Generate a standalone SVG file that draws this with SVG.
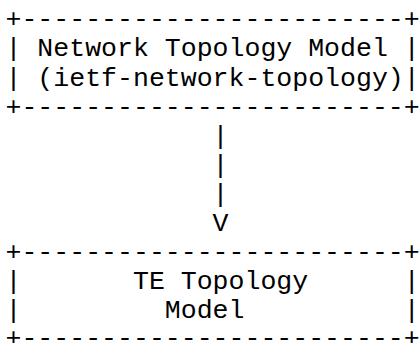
<svg xmlns="http://www.w3.org/2000/svg" width="420" height="343" viewBox="0 0 420 343">
<style>
text{font-family:"Courier New","Liberation Mono",monospace;font-size:26.55px;fill:#000;white-space:pre}
</style>
<rect width="420" height="343" fill="#fff"/>
<g id="node-network-topology">
<text x="5.5" y="27.3" xml:space="preserve">+------------------------+</text>
<text x="5.5" y="56.4" xml:space="preserve">| Network Topology Model |</text>
<text x="5.5" y="85.5" xml:space="preserve">| (ietf-network-topology)|</text>
<text x="5.5" y="114.6" xml:space="preserve">+------------------------+</text>
</g>
<g id="connectors">
<text x="5.5" y="143.7" xml:space="preserve">             |</text>
<text x="5.5" y="172.8" xml:space="preserve">             |</text>
<text x="5.5" y="201.9" xml:space="preserve">             |</text>
<text x="5.5" y="231" xml:space="preserve">             V</text>
</g>
<g id="node-te-topology">
<text x="5.5" y="260.1" xml:space="preserve">+------------------------+</text>
<text x="5.5" y="289.2" xml:space="preserve">|       TE Topology      |</text>
<text x="5.5" y="318.3" xml:space="preserve">|         Model          |</text>
<text x="5.5" y="346.4" xml:space="preserve">+------------------------+</text>
</g>
</svg>
